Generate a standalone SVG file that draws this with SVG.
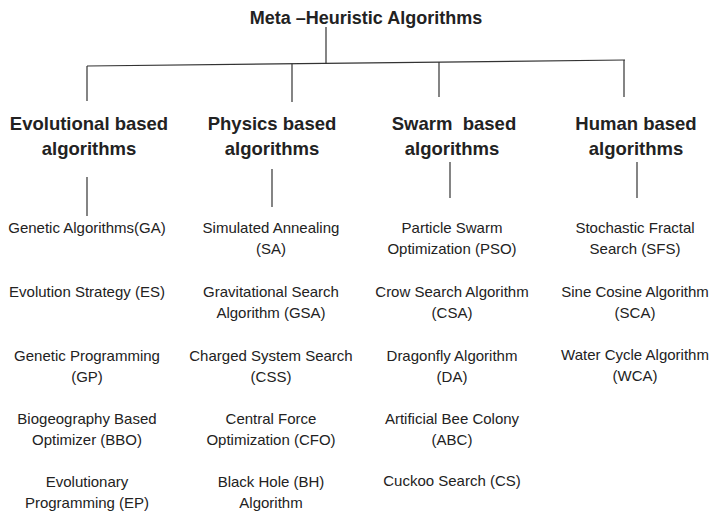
<svg xmlns="http://www.w3.org/2000/svg" width="713" height="512" viewBox="0 0 713 512">
<style>
text{font-family:"Liberation Sans",Arial,sans-serif;fill:#222;text-anchor:middle}
.title{font-size:18px;font-weight:bold}
.head{font-size:18.5px;font-weight:bold}
.item{font-size:15px}
.conn line{stroke:#333;stroke-width:1.2;fill:none}
</style>
<rect width="713" height="512" fill="#fff"/>
<g id="connectors" class="conn">
<line x1="326" y1="27" x2="326" y2="63.3"/>
<line x1="87" y1="66" x2="625" y2="60"/>
<line x1="87" y1="66" x2="87" y2="101"/>
<line x1="292" y1="63.7" x2="292" y2="102"/>
<line x1="439" y1="62.1" x2="439" y2="97"/>
<line x1="624" y1="60" x2="624" y2="97"/>
<line x1="87" y1="177" x2="87" y2="216"/>
<line x1="272" y1="169" x2="272" y2="207"/>
<line x1="450" y1="162" x2="450" y2="198"/>
<line x1="637" y1="162" x2="637" y2="198"/>
</g>
<g id="root"><text class="title" x="366" y="24">Meta –Heuristic Algorithms</text></g>
<g id="evolutional"><text class="head" x="89" y="130">Evolutional based</text><text class="head" x="89" y="155">algorithms</text></g>
<g id="physics"><text class="head" x="272" y="130">Physics based</text><text class="head" x="272" y="155">algorithms</text></g>
<g id="swarm"><text class="head" x="454" y="130" xml:space="preserve">Swarm  based</text><text class="head" x="452" y="155">algorithms</text></g>
<g id="human"><text class="head" x="636" y="130">Human based</text><text class="head" x="636" y="155">algorithms</text></g>
<g id="ga"><text class="item" x="87" y="233">Genetic Algorithms(GA)</text></g>
<g id="es"><text class="item" x="87" y="297">Evolution Strategy (ES)</text></g>
<g id="gp"><text class="item" x="87" y="361">Genetic Programming</text><text class="item" x="87" y="381.5">(GP)</text></g>
<g id="bbo"><text class="item" x="87" y="424">Biogeography Based</text><text class="item" x="87" y="444.5">Optimizer (BBO)</text></g>
<g id="ep"><text class="item" x="87" y="487">Evolutionary</text><text class="item" x="87" y="507.5">Programming (EP)</text></g>
<g id="sa"><text class="item" x="271" y="233">Simulated Annealing</text><text class="item" x="271" y="253.5">(SA)</text></g>
<g id="gsa"><text class="item" x="271" y="297">Gravitational Search</text><text class="item" x="271" y="317.5">Algorithm (GSA)</text></g>
<g id="css"><text class="item" x="271" y="361">Charged System Search</text><text class="item" x="271" y="381.5">(CSS)</text></g>
<g id="cfo"><text class="item" x="271" y="424">Central Force</text><text class="item" x="271" y="444.5">Optimization (CFO)</text></g>
<g id="bh"><text class="item" x="271" y="487">Black Hole (BH)</text><text class="item" x="271" y="507.5">Algorithm</text></g>
<g id="pso"><text class="item" x="452" y="233">Particle Swarm</text><text class="item" x="452" y="253.5">Optimization (PSO)</text></g>
<g id="csa"><text class="item" x="452" y="297">Crow Search Algorithm</text><text class="item" x="452" y="317.5">(CSA)</text></g>
<g id="da"><text class="item" x="452" y="361">Dragonfly Algorithm</text><text class="item" x="452" y="381.5">(DA)</text></g>
<g id="abc"><text class="item" x="452" y="424">Artificial Bee Colony</text><text class="item" x="452" y="444.5">(ABC)</text></g>
<g id="cs"><text class="item" x="452" y="486">Cuckoo Search (CS)</text></g>
<g id="sfs"><text class="item" x="635" y="233">Stochastic Fractal</text><text class="item" x="635" y="253.5">Search (SFS)</text></g>
<g id="sca"><text class="item" x="635" y="297">Sine Cosine Algorithm</text><text class="item" x="635" y="317.5">(SCA)</text></g>
<g id="wca"><text class="item" x="635" y="360">Water Cycle Algorithm</text><text class="item" x="635" y="380.5">(WCA)</text></g>
</svg>
